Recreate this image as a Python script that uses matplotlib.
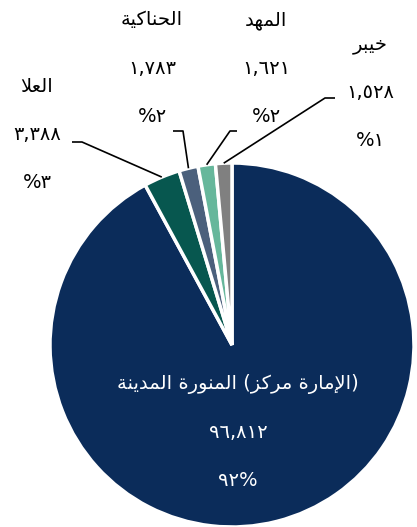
import re
import matplotlib
matplotlib.use("Agg")
import matplotlib.pyplot as plt
import numpy as np

# data
names = ["المدينة المنورة (مركز الإمارة)", "العلا", "الحناكية", "المهد", "خيبر"]
values = [96812, 3388, 1783, 1621, 1528]
colors = ["#0b2c5a", "#07574f", "#4b607c", "#66b79b", "#808080"]

# layout (pixels from top-left): first line of each label, and leader knees
label_pos = [(238, 384), (37, 87), (152, 20), (266, 20), (370, 45)]
knees = [None, [(72, 142), (82, 142)], [(173, 131), (183, 131)],
         [(237, 131), (230, 131)], [(335, 98), (325, 98)]]

W, H = 417, 527
CX, CY, R = 232, 345, 182

# presentation forms: (isolated, final, initial, medial)
FORMS = {
    'ا': ('\uFE8D', '\uFE8E'), 'إ': ('\uFE87', '\uFE88'),
    'د': ('\uFEA9', '\uFEAA'), 'ة': ('\uFE93', '\uFE94'),
    'و': ('\uFEED', '\uFEEE'), 'ر': ('\uFEAD', '\uFEAE'),
    'ز': ('\uFEAF', '\uFEB0'),
    '\uFEFB': ('\uFEFB', '\uFEFC'), '\uFEF9': ('\uFEF9', '\uFEFA'),
    'ل': ('\uFEDD', '\uFEDE', '\uFEDF', '\uFEE0'),
    'م': ('\uFEE1', '\uFEE2', '\uFEE3', '\uFEE4'),
    'ي': ('\uFEF1', '\uFEF2', '\uFEF3', '\uFEF4'),
    'ن': ('\uFEE5', '\uFEE6', '\uFEE7', '\uFEE8'),
    'ك': ('\uFED9', '\uFEDA', '\uFEDB', '\uFEDC'),
    'ع': ('\uFEC9', '\uFECA', '\uFECB', '\uFECC'),
    'ه': ('\uFEE9', '\uFEEA', '\uFEEB', '\uFEEC'),
    'ح': ('\uFEA1', '\uFEA2', '\uFEA3', '\uFEA4'),
    'خ': ('\uFEA5', '\uFEA6', '\uFEA7', '\uFEA8'),
    'ب': ('\uFE8F', '\uFE90', '\uFE91', '\uFE92'),
}


def shape(text):
    text = text.replace('لا', '\uFEFB').replace('لإ', '\uFEF9')
    res = []
    for i, c in enumerate(text):
        if c not in FORMS:
            res.append(c)
            continue
        f = FORMS[c]
        prev = text[i - 1] if i > 0 else ''
        nxt = text[i + 1] if i + 1 < len(text) else ''
        jp = prev in FORMS and len(FORMS[prev]) == 4
        jn = len(f) == 4 and nxt in FORMS
        if jp and jn:
            res.append(f[3])
        elif jp:
            res.append(f[1])
        elif jn:
            res.append(f[2])
        else:
            res.append(f[0])
    s = ''.join(res)
    # each word reads right to left
    return re.sub('[\uFB50-\uFDFF\uFE70-\uFEFF]+', lambda m: m.group(0)[::-1], s)


def ar_digits(s):
    return s.translate(str.maketrans('0123456789', '٠١٢٣٤٥٦٧٨٩'))


plt.rcParams['font.family'] = ['DejaVu Sans']

fig = plt.figure(figsize=(W / 100, H / 100), dpi=100)
ax = fig.add_axes([0, 0, 1, 1])
ax.set_xlim(0, W)
ax.set_ylim(0, H)
ax.axis('off')

wedges, _ = ax.pie(values, colors=colors, startangle=90, counterclock=False,
                   center=(CX, H - CY), radius=R, frame=True,
                   wedgeprops=dict(edgecolor='white', linewidth=2.5))
ax.set_xlim(0, W)
ax.set_ylim(0, H)
ax.axis('off')

total = sum(values)
fs = 14
step = 48
for i, (name, v) in enumerate(zip(names, values)):
    pct = ar_digits(str(round(v / total * 100)))
    num = ar_digits(f"{v:,}")
    x, y = label_pos[i]
    if i == 0:
        col = 'white'
        lines = [shape(name), num, pct + '%']
    else:
        col = 'black'
        lines = [shape(name), num, '%' + pct]
    for k, t in enumerate(lines):
        ax.text(x, H - (y + k * step), t, ha='center', va='center',
                fontsize=fs, color=col)

    if knees[i] is not None:
        w = wedges[i]
        mid = np.deg2rad((w.theta1 + w.theta2) / 2)
        ex = CX + R * np.cos(mid)
        ey = (H - CY) + R * np.sin(mid)
        (x0, y0), (x1, y1) = knees[i]
        ax.plot([x0, x1, ex], [H - y0, H - y1, ey], color='black', lw=1.2,
                solid_capstyle='butt', zorder=3)

fig.savefig("out.png", dpi=100)
